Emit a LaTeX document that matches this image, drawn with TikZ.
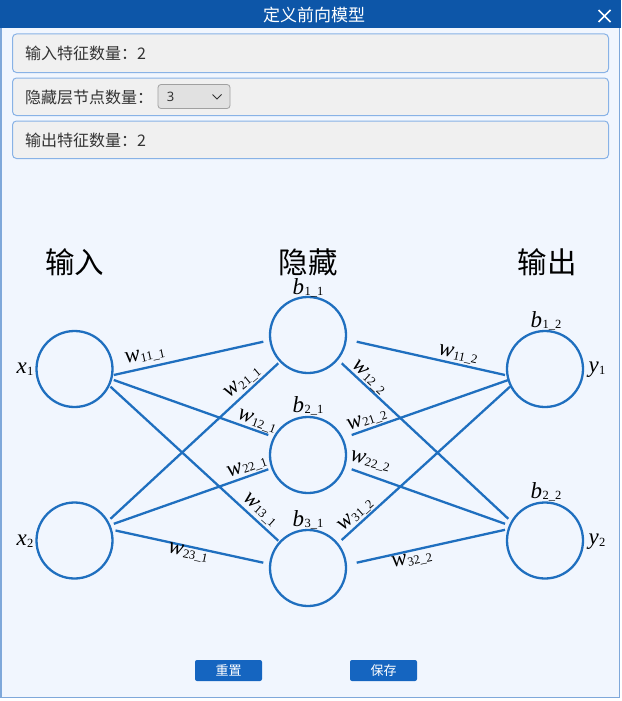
\documentclass[tikz,border=0pt]{standalone}
\usepackage{fontspec}
\setmainfont{Liberation Serif}
\newfontfamily\cjk{Noto Sans CJK SC}
\usetikzlibrary{calc}
\definecolor{titlebar}{HTML}{0D56A8}
\definecolor{netblue}{HTML}{1F6FBF}
\definecolor{dlgbg}{HTML}{F1F6FE}
\definecolor{boxfill}{HTML}{F0F0F0}
\definecolor{boxline}{HTML}{88B2E6}
\definecolor{btnblue}{HTML}{1565C0}
\definecolor{winborder}{HTML}{7FA8DA}
\definecolor{txtgray}{HTML}{333333}
\definecolor{combofill}{HTML}{E1E1E1}
\definecolor{comboline}{HTML}{A0A0A0}
\newcommand\wlab[2]{\textit{#1}\kern0.3pt\raisebox{-1.5pt}{\fontsize{12.5}{12.5}\selectfont #2}}
\begin{document}
\begin{tikzpicture}[x=1pt,y=-1pt,
  neuron/.style={circle,draw=netblue,line width=2.3pt,minimum size=76pt,inner sep=0pt},
  conn/.style={netblue,line width=2.3pt},
  wl/.style={font=\fontsize{23}{23}\selectfont,inner sep=0pt},
  head/.style={font=\cjk\fontsize{29.5}{29.5}\selectfont,inner sep=0pt},
  infobox/.style={draw=boxline,fill=boxfill,rounded corners=4pt,line width=1pt},
  infotext/.style={anchor=west,font=\cjk\fontsize{16}{16}\selectfont,text=txtgray,inner sep=0pt},
  btn/.style={fill=btnblue,rounded corners=2pt,minimum width=67pt,minimum height=21pt,inner sep=0pt,text=white,font=\cjk\fontsize{13}{13}\selectfont}
]
\useasboundingbox (0,0) rectangle (621,701);
\fill[white] (0,0) rectangle (621,701);
% window
\draw[winborder,line width=1.5pt,fill=dlgbg] (1,0) rectangle (619.5,697.5);
\fill[titlebar] (0,0) rectangle (621,28);
\node[font=\cjk\fontsize{17}{17}\selectfont,text=white,inner sep=0pt] (title) at (314,15.5) {定义前向模型};
\coordinate (closec) at (604.5,16);
\draw[white,line width=1.6pt] ($(closec)+(-6,-6)$) -- ($(closec)+(6,6)$) ($(closec)+(-6,6)$) -- ($(closec)+(6,-6)$);
% info boxes
\draw[infobox] (12.5,34) rectangle (608.5,72.5);
\node[infotext] (t1) at (25,53.5) {输入特征数量：2};
\draw[infobox] (12.5,78) rectangle (608.5,115.5);
\node[infotext] (t2) at (25,97) {隐藏层节点数量：};
\draw[draw=comboline,fill=combofill,rounded corners=3pt,line width=0.8pt] (158,84.5) rectangle (230,108.5);
\node[font=\fontspec{Noto Sans}\fontsize{13}{13}\selectfont,text=txtgray,inner sep=0pt] (cb) at (170.5,96.5) {3};
\draw[txtgray,line width=1pt] (212.5,94.5) -- (217,99) -- (221.5,94.5);
\draw[infobox] (12.5,121) rectangle (608.5,158.5);
\node[infotext] (t3) at (25,140) {输出特征数量：2};
% headings
\node[head] (hin) at (74.5,262) {输入};
\node[head] (hhid) at (308,262) {隐藏};
\node[head] (hout) at (547,262) {输出};
% neurons
\node[neuron] (x1) at (74.5,369) {};
\node[neuron] (x2) at (74.5,540.5) {};
\node[neuron] (h1) at (308,335) {};
\node[neuron] (h2) at (308,455) {};
\node[neuron] (h3) at (308,568) {};
\node[neuron] (y1) at (545,369) {};
\node[neuron] (y2) at (545,540.5) {};
% connectors input -> hidden
\draw[conn] ($(x1)+(39.3,6)$) -- ($(h1)+(-44.7,6.7)$);
\draw[conn] ($(x1)+(39.3,11)$) -- ($(h2)+(-39.7,-20)$);
\draw[conn] ($(x1)+(36,17.7)$) -- ($(h3)+(-29.7,-27.3)$);
\draw[conn] ($(x2)+(36,-21.7)$) -- ($(h1)+(-29.7,28.3)$);
\draw[conn] ($(x2)+(39.3,-16.7)$) -- ($(h2)+(-39.7,14.3)$);
\draw[conn] ($(x2)+(41,-10)$) -- ($(h3)+(-44.7,-5.3)$);
% connectors hidden -> output
\draw[conn] ($(h1)+(48.7,6.7)$) -- ($(y1)+(-40,6)$);
\draw[conn] ($(h1)+(33.7,28.3)$) -- ($(y2)+(-36.7,-21.7)$);
\draw[conn] ($(h2)+(43.7,-20)$) -- ($(y1)+(-36.7,11)$);
\draw[conn] ($(h2)+(43.7,14.3)$) -- ($(y2)+(-40,-16.7)$);
\draw[conn] ($(h3)+(33.7,-28)$) -- ($(y1)+(-35,17.7)$);
\draw[conn] ($(h3)+(48.7,-5.3)$) -- ($(y2)+(-40,-10.7)$);
% weight labels
\node[wl,rotate=12] (w111) at (145,356) {\wlab{w}{11\_1}};
\node[wl,rotate=40] (w211) at (243,383) {\wlab{w}{21\_1}};
\node[wl,rotate=-20] (w121) at (257,422) {\wlab{w}{12\_1}};
\node[wl,rotate=19] (w221) at (247,467) {\wlab{w}{22\_1}};
\node[wl,rotate=-42] (w131) at (260,510) {\wlab{w}{13\_1}};
\node[wl,rotate=-12] (w231) at (188,553) {\wlab{w}{23\_1}};
\node[wl,rotate=-12] (w112) at (458,355) {\wlab{w}{11\_2}};
\node[wl,rotate=-43] (w122) at (369,378) {\wlab{w}{12\_2}};
\node[wl,rotate=19] (w212) at (367,420) {\wlab{w}{21\_2}};
\node[wl,rotate=-14] (w222) at (370,462) {\wlab{w}{22\_2}};
\node[wl,rotate=42] (w312) at (356,515) {\wlab{w}{31\_2}};
\node[wl,rotate=12] (w322) at (412,560) {\wlab{w}{32\_2}};
% bias labels
\node[wl] (b11) at (308,288) {\wlab{b}{1\_1}};
\node[wl] (b21) at (308,406) {\wlab{b}{2\_1}};
\node[wl] (b31) at (308,520) {\wlab{b}{3\_1}};
\node[wl] (b12) at (546,321) {\wlab{b}{1\_2}};
\node[wl] (b22) at (546,492) {\wlab{b}{2\_2}};
% io labels
\node[wl] (lx1) at (25,369) {\wlab{x}{1}};
\node[wl] (lx2) at (25,541) {\wlab{x}{2}};
\node[wl] (ly1) at (597,370) {\wlab{y}{1}};
\node[wl] (ly2) at (597,542) {\wlab{y}{2}};
% buttons
\node[btn] (reset) at (228.5,670.5) {重置};
\node[btn] (save) at (383.5,670.5) {保存};
\end{tikzpicture}
\end{document}
